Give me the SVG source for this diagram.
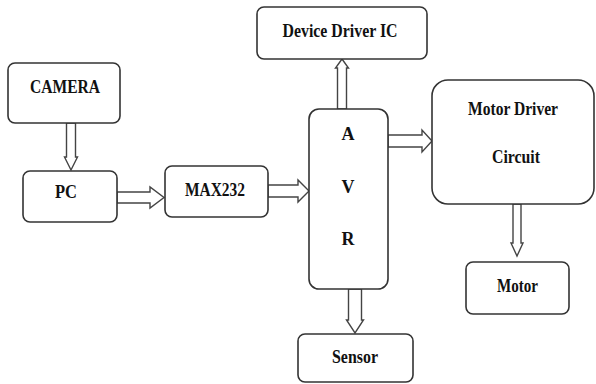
<svg xmlns="http://www.w3.org/2000/svg" width="596" height="384" viewBox="0 0 596 384">
<style>
.box{fill:#fff;stroke:#333;stroke-width:1.6}
.arr{fill:#fff;stroke:#444;stroke-width:1.4;stroke-linejoin:miter}
text{font-family:"Liberation Serif","Times New Roman",serif;font-weight:bold;font-size:18px;fill:#111;text-anchor:middle}
</style>
<rect width="596" height="384" fill="#fff"/>
<g id="connectors">
<polygon class="arr" points="66.5,123 75.5,123 75.5,157 77.5,157 71,170 64.5,157 66.5,157"/>
<polygon class="arr" points="117,192 150,192 150,187 164,197.5 150,208 150,203 117,203"/>
<polygon class="arr" points="268,185 298,185 298,180 309,191 298,202 298,197 268,197"/>
<polygon class="arr" points="388,135 422,135 422,130 432,141 422,152 422,147 388,147"/>
<polygon class="arr" points="337.5,109 337.5,68 335.5,68 342,59 348.5,68 346.5,68 346.5,109"/>
<polygon class="arr" points="513,204 521,204 521,243 523,243 517,256 511,243 513,243"/>
<polygon class="arr" points="348.5,289 361.5,289 361.5,320 363.5,320 355,333 346.5,320 348.5,320"/>
</g>
<g id="camera"><rect class="box" x="8" y="63" width="112" height="60" rx="7"/><text x="65" y="93" textLength="70" lengthAdjust="spacingAndGlyphs">CAMERA</text></g>
<g id="pc"><rect class="box" x="23" y="171" width="94" height="51" rx="7"/><text x="66" y="198" textLength="22" lengthAdjust="spacingAndGlyphs">PC</text></g>
<g id="max232"><rect class="box" x="165" y="166" width="103" height="51" rx="7"/><text x="215" y="196" textLength="60" lengthAdjust="spacingAndGlyphs">MAX232</text></g>
<g id="device-driver"><rect class="box" x="257" y="7" width="170" height="52" rx="7"/><text x="340" y="37" textLength="115" lengthAdjust="spacingAndGlyphs">Device Driver IC</text></g>
<g id="avr"><rect class="box" x="309" y="109" width="79" height="180" rx="10"/><text x="348" y="140">A</text><text x="348" y="193">V</text><text x="348" y="245">R</text></g>
<g id="motor-driver"><rect class="box" x="432" y="80" width="162" height="124" rx="16"/><text x="513" y="115" textLength="90" lengthAdjust="spacingAndGlyphs">Motor Driver</text><text x="516" y="163" textLength="48" lengthAdjust="spacingAndGlyphs">Circuit</text></g>
<g id="motor"><rect class="box" x="466" y="262" width="103" height="52" rx="7"/><text x="517.5" y="292" textLength="41" lengthAdjust="spacingAndGlyphs">Motor</text></g>
<g id="sensor"><rect class="box" x="298" y="334" width="115" height="48" rx="7"/><text x="355" y="363" textLength="46" lengthAdjust="spacingAndGlyphs">Sensor</text></g>
</svg>
